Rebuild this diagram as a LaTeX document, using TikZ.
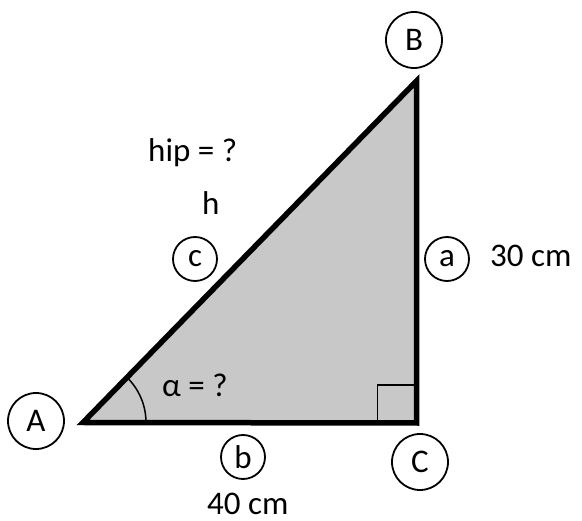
\documentclass[tikz,border=0pt]{standalone}
\usepackage{fontspec}
\setmainfont{Carlito}
\definecolor{trifill}{RGB}{200,200,200}
\begin{document}
\begin{tikzpicture}[x=1pt,y=-1pt,
  vlabel/.style={draw, circle, line width=1.8pt, minimum size=56pt, inner sep=0pt, font=\fontsize{33}{40}\selectfont},
  slabel/.style={draw, circle, line width=1.8pt, minimum size=44pt, inner sep=0pt, font=\fontsize{33}{40}\selectfont},
  txt/.style={anchor=base west, inner sep=0pt, font=\fontsize{33}{40}\selectfont}]
\useasboundingbox (0,0) rectangle (582,521);
\coordinate (A) at (83,422.5);
\coordinate (B) at (416.5,81);
\coordinate (C) at (416.5,423);
\filldraw[fill=trifill, line width=5.5pt, line join=miter] (A) -- (C) -- (B) -- cycle;
% right angle and angle mark
\draw[line width=1.5pt] ([xshift=-39pt]C) -- ++(0,-38) -- ++(39,0);
\draw[line width=1.5pt] (A) ++(63,0) arc[start angle=0, end angle=-45.7, radius=63];
\node[vlabel] (lA) at (36,421) {A};
\node[vlabel] (lB) at (414,40) {B};
\node[vlabel] (lC) at (420,462) {C};
\node[slabel] (la) at (447,259) {a};
\node[slabel] (lb) at (243,457) {b};
\node[slabel] (lc) at (195,259) {c};
\node[txt] (alen) at (490,267) {30 cm};
\node[txt] (blen) at (207,515) {40 cm};
\node[txt] (hip) at (148,162) {hip = ?};
\node[txt] (h) at (202,215) {h};
\node[txt] (alpha) at (162,397) {α = ?};
\end{tikzpicture}
\end{document}
